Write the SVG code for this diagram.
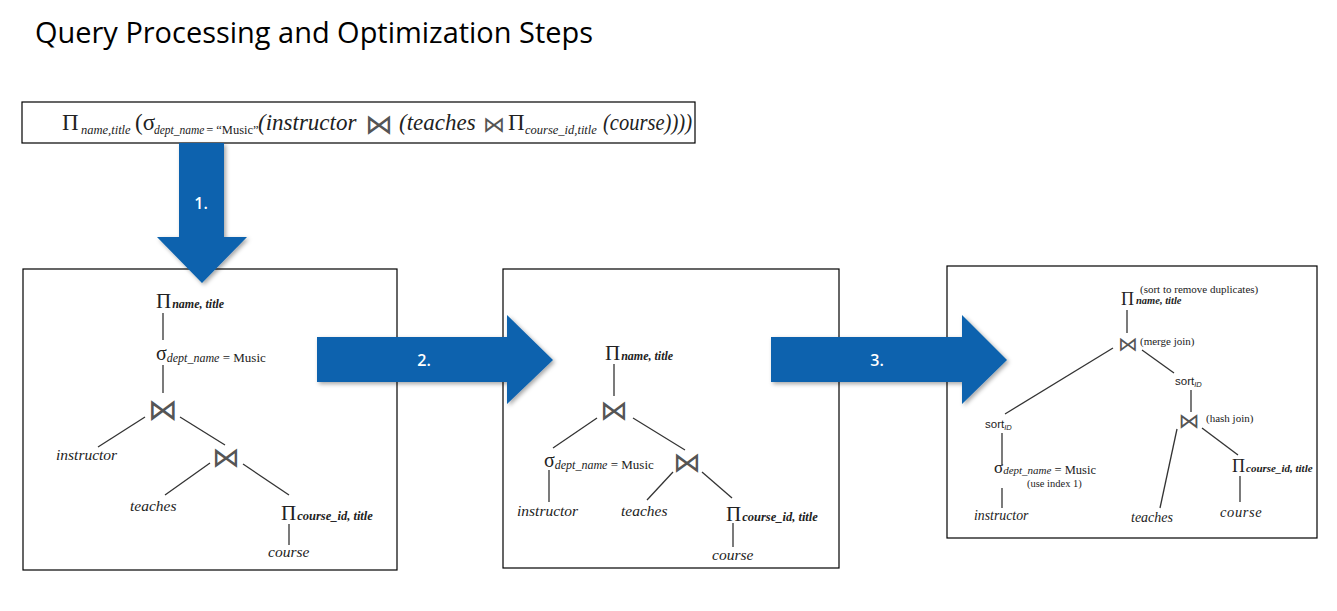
<svg xmlns="http://www.w3.org/2000/svg" width="1337" height="611" viewBox="0 0 1337 611">
<defs>
<style>
.box{fill:#fff;stroke:#000;stroke-width:1.2}
.edge{stroke:#333;stroke-width:1.3;fill:none}
.arrow{fill:#0A62AE}
.lbl{font-family:"Open Sans","Liberation Sans",sans-serif;font-size:16px;font-weight:600;fill:#fff;text-anchor:middle}
.s{font-family:"Liberation Serif",serif;fill:#222}
.i{font-style:italic}
.bt{font-family:"DejaVu Serif","DejaVu Sans",serif;fill:#555;text-anchor:middle}
.sans{font-family:"Liberation Sans",sans-serif;fill:#222}
</style>
<filter id="sh" x="-20%" y="-20%" width="150%" height="150%">
<feDropShadow dx="2" dy="2" stdDeviation="2" flood-color="#000" flood-opacity="0.35"/>
</filter>
</defs>
<rect width="1337" height="611" fill="#fff"/>

<g id="title">
<text x="35" y="43" font-family="Open Sans, Liberation Sans, sans-serif" font-size="29" fill="#000" textLength="558" lengthAdjust="spacingAndGlyphs">Query Processing and Optimization Steps</text>
</g>

<g id="query-box">
<rect class="box" x="22" y="102" width="673" height="41"/>
<text class="s" font-size="23" y="130">
<tspan x="62">Π</tspan><tspan x="81" y="134" font-size="12.5" class="i">name,title</tspan><tspan x="135" y="130">(σ</tspan><tspan x="154" y="134" font-size="11.5" class="i">dept_name</tspan><tspan x="203" y="134" font-size="12.5"> = “Music”</tspan><tspan x="258" y="130" class="i">(instructor</tspan><tspan x="399" y="130" class="i">(teaches</tspan><tspan x="508" y="130">Π</tspan><tspan x="525" y="134" font-size="12.5" class="i">course_id,title</tspan>
</text>
<text class="s i" font-size="23" x="603" y="130" textLength="89" lengthAdjust="spacingAndGlyphs">(course))))</text>
<text class="bt" x="379" y="134" font-size="28">⋈</text>
<text class="bt" x="494" y="132" font-size="22">⋈</text>
</g>

<g id="tree1">
<rect class="box" x="23" y="269" width="374" height="301"/>
<g id="t1-proj"><text class="s" x="156" y="308" font-size="21">Π<tspan font-size="12" class="i" font-weight="bold" dx="1">name, title</tspan></text></g>
<g id="t1-sel"><text class="s" x="156" y="360" font-size="20">σ<tspan font-size="12" class="i" dy="2">dept_name</tspan><tspan font-size="13"> = Music</tspan></text></g>
<g id="t1-join1"><text class="bt" x="163" y="420" font-size="30">⋈</text></g>
<g id="t1-instructor"><text class="s i" x="56" y="460" font-size="15.5">instructor</text></g>
<g id="t1-join2"><text class="bt" x="226" y="467" font-size="28">⋈</text></g>
<g id="t1-teaches"><text class="s i" x="130" y="511" font-size="15.5">teaches</text></g>
<g id="t1-proj2"><text class="s" x="281" y="520" font-size="21">Π<tspan font-size="12.5" class="i" font-weight="bold" dx="1">course_id, title</tspan></text></g>
<g id="t1-course"><text class="s i" x="268" y="557" font-size="15.5">course</text></g>
</g>

<g id="tree2">
<rect class="box" x="503" y="269" width="336" height="299"/>
<g id="t2-proj"><text class="s" x="605" y="360" font-size="21">Π<tspan font-size="12" class="i" font-weight="bold" dx="1">name, title</tspan></text></g>
<g id="t2-join1"><text class="bt" x="614" y="420" font-size="28">⋈</text></g>
<g id="t2-sel"><text class="s" x="544" y="467" font-size="20">σ<tspan font-size="12" class="i" dy="2">dept_name</tspan><tspan font-size="13"> = Music</tspan></text></g>
<g id="t2-join2"><text class="bt" x="687" y="472" font-size="28">⋈</text></g>
<g id="t2-instructor"><text class="s i" x="517" y="516" font-size="15.5">instructor</text></g>
<g id="t2-teaches"><text class="s i" x="621" y="516" font-size="15.5">teaches</text></g>
<g id="t2-proj2"><text class="s" x="726" y="521" font-size="21">Π<tspan font-size="12.5" class="i" font-weight="bold" dx="1">course_id, title</tspan></text></g>
<g id="t2-course"><text class="s i" x="712" y="560" font-size="15.5">course</text></g>
</g>

<g id="tree3">
<rect class="box" x="947" y="266" width="370" height="272"/>
<g id="t3-proj"><text class="s" x="1140" y="293" font-size="11">(sort to remove duplicates)</text><text class="s" x="1121" y="305" font-size="18">Π<tspan font-size="10.5" class="i" font-weight="bold" dx="2" dy="-1">name, title</tspan></text></g>
<g id="t3-merge"><text class="bt" x="1128" y="351" font-size="20">⋈</text><text class="s" x="1140" y="345" font-size="11">(merge join)</text></g>
<g id="t3-sortR"><text class="sans" x="1175" y="385" font-size="11.5">sort<tspan font-size="7.5" font-style="italic" dy="2">ID</tspan></text></g>
<g id="t3-hash"><text class="bt" x="1189" y="428" font-size="21">⋈</text><text class="s" x="1206" y="422" font-size="11">(hash join)</text></g>
<g id="t3-sortL"><text class="sans" x="985" y="428" font-size="11.5">sort<tspan font-size="7.5" font-style="italic" dy="2">ID</tspan></text></g>
<g id="t3-sel"><text class="s" x="994" y="473" font-size="17">σ<tspan font-size="11" class="i" dy="1">dept_name</tspan><tspan font-size="12.5"> = Music</tspan></text><text class="s" x="1027" y="487" font-size="10.5">(use index 1)</text></g>
<g id="t3-proj2"><text class="s" x="1232" y="472" font-size="18">Π<tspan font-size="11" class="i" font-weight="bold" dx="1">course_id, title</tspan></text></g>
<g id="t3-instructor"><text class="s i" x="974" y="520" font-size="13.8">instructor</text></g>
<g id="t3-teaches"><text class="s i" x="1131" y="522" font-size="14">teaches</text></g>
<g id="t3-course"><text class="s i" x="1220" y="517" font-size="14.5" letter-spacing="0.6">course</text></g>
</g>

<g id="connectors">
<line class="edge" x1="163" y1="313" x2="163" y2="340"/>
<line class="edge" x1="163" y1="365" x2="163" y2="393"/>
<line class="edge" x1="145" y1="417" x2="98" y2="447"/>
<line class="edge" x1="180" y1="417" x2="225" y2="445"/>
<line class="edge" x1="210" y1="463" x2="165" y2="495"/>
<line class="edge" x1="243" y1="464" x2="289" y2="495"/>
<line class="edge" x1="289" y1="524" x2="289" y2="545"/>

<line class="edge" x1="614" y1="364" x2="614" y2="396"/>
<line class="edge" x1="597" y1="418" x2="553" y2="448"/>
<line class="edge" x1="633" y1="418" x2="685" y2="450"/>
<line class="edge" x1="549" y1="470" x2="549" y2="502"/>
<line class="edge" x1="673" y1="472" x2="647" y2="500"/>
<line class="edge" x1="702" y1="472" x2="732" y2="498"/>
<line class="edge" x1="733" y1="523" x2="733" y2="547"/>

<line class="edge" x1="1127" y1="310" x2="1127" y2="333"/>
<line class="edge" x1="1113" y1="348" x2="1005" y2="414"/>
<line class="edge" x1="1142" y1="350" x2="1174" y2="373"/>
<line class="edge" x1="1191" y1="390" x2="1191" y2="412"/>
<line class="edge" x1="1177" y1="429" x2="1160" y2="508"/>
<line class="edge" x1="1202" y1="428" x2="1238" y2="455"/>
<line class="edge" x1="1240" y1="476" x2="1240" y2="502"/>
<line class="edge" x1="1002" y1="433" x2="1002" y2="465"/>
<line class="edge" x1="1002" y1="488" x2="1002" y2="508"/>
</g>

<g id="arrows">
<g id="arrow1"><polygon class="arrow" filter="url(#sh)" points="179,143 224,143 224,237 247,237 202,283 157,237 179,237"/><text class="lbl" x="201" y="209">1.</text></g>
<g id="arrow2"><polygon class="arrow" filter="url(#sh)" points="317,337 507,337 507,315 553,360 507,404 507,382 317,382"/><text class="lbl" x="424" y="366">2.</text></g>
<g id="arrow3"><polygon class="arrow" filter="url(#sh)" points="771,337 962,337 962,315 1007,360 962,404 962,382 771,382"/><text class="lbl" x="877" y="366">3.</text></g>
</g>
</svg>
